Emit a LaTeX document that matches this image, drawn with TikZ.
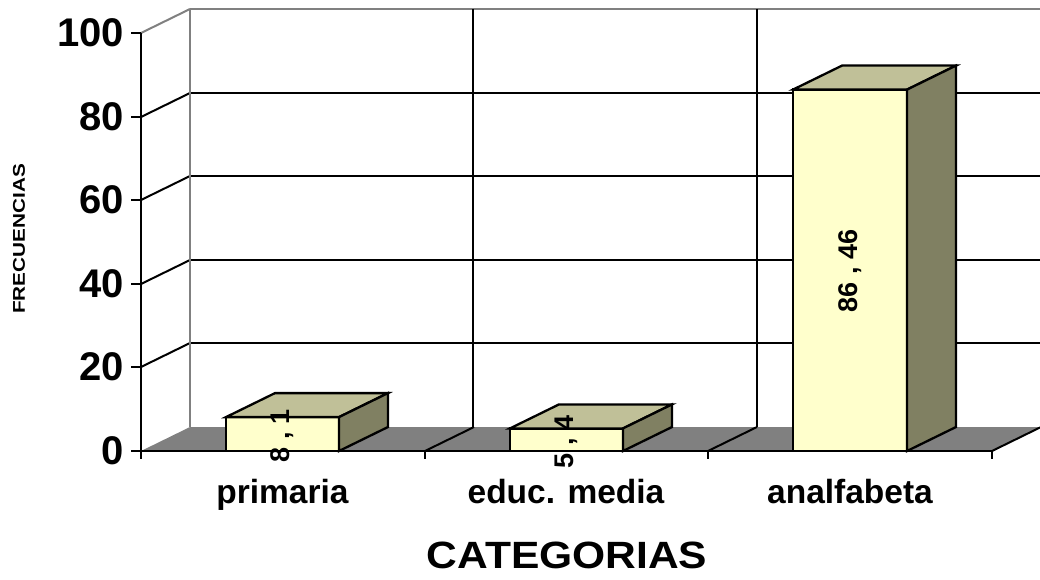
\documentclass[tikz,border=0pt]{standalone}
\usepackage{fontspec}
\setmainfont{Liberation Sans}
\usepackage{graphicx}
\definecolor{face}{RGB}{255,255,204}
\definecolor{topc}{RGB}{192,192,152}
\definecolor{sidec}{RGB}{128,128,98}
\definecolor{floorc}{RGB}{128,128,128}
\definecolor{gridg}{RGB}{128,128,128}
\tikzset{
  grid/.style={line width=2pt, black},
  gridgray/.style={line width=2pt, gridg},
  axis/.style={line width=2.2pt, black},
  barline/.style={line width=2.3pt, black, line join=miter},
  ticklab/.style={anchor=east, font=\fontsize{40}{40}\selectfont\bfseries, inner sep=0pt},
  catlab/.style={anchor=base, font=\fontsize{33.5}{34}\selectfont\bfseries, inner sep=0pt},
  vallab/.style={rotate=90, font=\fontsize{27}{27}\selectfont\bfseries, inner sep=0pt},
}
\begin{document}
\begin{tikzpicture}[x=1pt,y=-1pt]
\useasboundingbox (0,0) rectangle (1040,580);
% back wall grid
\foreach \yy in {93,176,260,343} {
  \draw[grid] (190,\yy) -- (1040,\yy);
}
\draw[gridgray] (190,9) -- (1040,9);
\draw[grid] (473,9) -- (473,427);
\draw[grid] (757,9) -- (757,427);
% left wall
\foreach \yy in {117,200,284,367} {
  \draw[grid] (141,\yy) -- (190,\yy-24);
}
\draw[gridgray] (141,33) -- (190,9);
\draw[gridgray] (190,9) -- (190,427);
% floor
\fill[floorc] (141,451) -- (992,451) -- (1041,427) -- (190,427) -- cycle;
\draw[grid] (425,451) -- (474,427);
\draw[grid] (708,451) -- (757,427);
\draw[grid] (992,451) -- (1041,427);
% axes
\draw[axis] (141,33) -- (141,459);
\draw[axis] (131,451) -- (992,451);
\foreach \yy in {33,117,200,284,367} { \draw[axis] (131,\yy) -- (141,\yy); }
\foreach \xx in {425,708,992} { \draw[axis] (\xx,451) -- (\xx,459); }
% bars
\foreach \xa/\xb/\tp in {226/339/417.1, 510/623/428.4, 793/907/89.6} {
  \filldraw[barline, fill=face] (\xa,451) rectangle (\xb,\tp);
  \filldraw[barline, fill=topc] (\xa,\tp) -- (\xb,\tp) -- (\xb+49,\tp-24) -- (\xa+49,\tp-24) -- cycle;
  \filldraw[barline, fill=sidec] (\xb,451) -- (\xb,\tp) -- (\xb+49,\tp-24) -- (\xb+49,427) -- cycle;
}
% value labels
\node[vallab] (v1) at (282,436) {8 , 1};
\node[vallab] (v2) at (566,442) {5 , 4};
\node[vallab] (v3) at (850,271) {86 , 46};
% tick labels
\node[ticklab] (t100) at (124,33) {100};
\node[ticklab] (t80) at (124,117) {80};
\node[ticklab] (t60) at (124,200) {60};
\node[ticklab] (t40) at (124,284) {40};
\node[ticklab] (t20) at (124,367) {20};
\node[ticklab] (t0) at (124,451) {0};
% category labels
\node[catlab] (c1) at (282.5,503) {primaria};
\node[catlab] (c2) at (566,503) {educ. media};
\node[catlab] (c3) at (850,503) {analfabeta};
\node[anchor=base, inner sep=0pt, font=\fontsize{38}{38}\selectfont\bfseries] (xt) at (567,568) {\scalebox{1.12}[1]{CATEGORIAS}};
\node[rotate=90, inner sep=0pt, font=\fontsize{17}{17}\selectfont\bfseries] (yt) at (19,239) {\scalebox{1.22}[1]{FRECUENCIAS}};
\end{tikzpicture}
\end{document}
